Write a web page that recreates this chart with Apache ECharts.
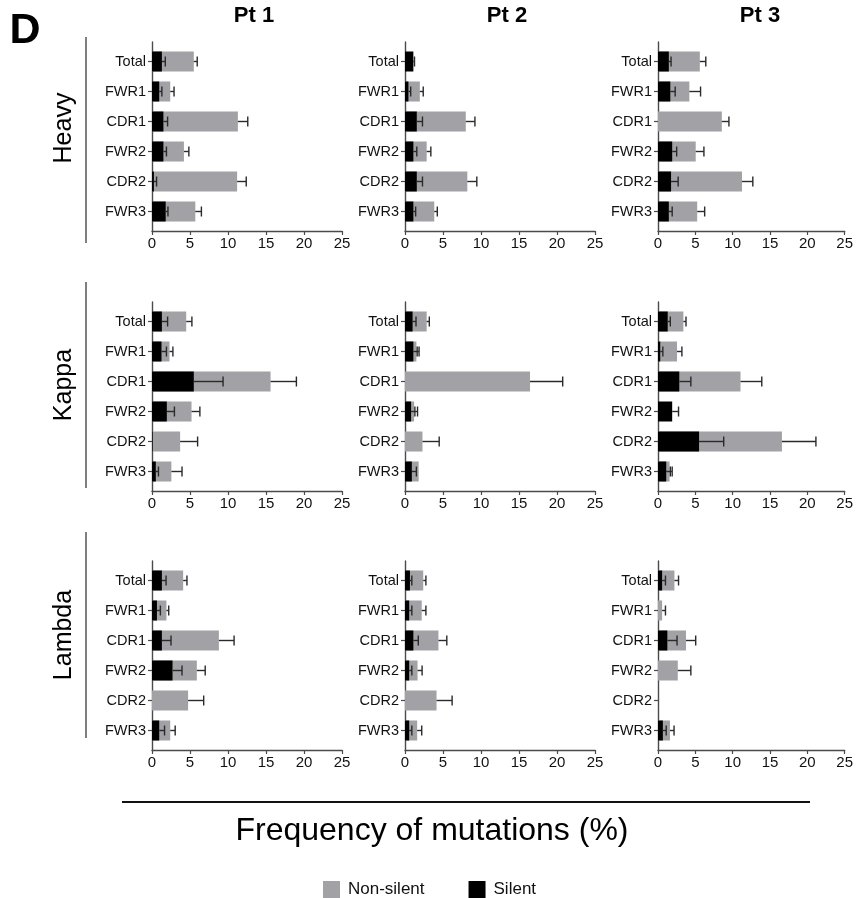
<!DOCTYPE html>
<html>
<head>
<meta charset="utf-8">
<script src="https://cdn.jsdelivr.net/npm/echarts@6/dist/echarts.min.js"></script>
<style>
  html, body { margin: 0; padding: 0; background: #fff; }
  #chart { width: 856px; height: 898px; }
</style>
</head>
<body>
<div id="chart"></div>
<script>
const regions = ['Total', 'FWR1', 'CDR1', 'FWR2', 'CDR2', 'FWR3'];
const chains = ['Heavy', 'Kappa', 'Lambda'];
const patients = ['Pt 1', 'Pt 2', 'Pt 3'];
const xTicks = [0, 5, 10, 15, 20, 25];

// frequency of mutations (%) per region, one row per patient
const heavyNonSilent = [
  [5.5, 2.4, 11.3, 4.2, 11.2, 5.7],
  [0, 1.95, 8.0, 2.85, 8.2, 3.85],
  [5.6, 4.2, 8.55, 5.05, 11.25, 5.25]
];
const heavyNonSilentErr = [
  [0.45, 0.5, 1.3, 0.65, 1.2, 0.8],
  [0, 0.45, 1.2, 0.55, 1.25, 0.4],
  [0.8, 1.5, 0.95, 1.1, 1.45, 1.0]
];
const heavySilent = [
  [1.3, 0.95, 1.5, 1.5, 0.25, 1.8],
  [1.1, 0.45, 1.55, 1.1, 1.55, 1.1],
  [1.45, 1.65, 0, 1.9, 1.75, 1.45]
];
const heavySilentErr = [
  [0.45, 0.35, 0.55, 0.4, 0.35, 0.3],
  [0.15, 0.3, 0.75, 0.45, 0.75, 0.3],
  [0.3, 0.65, 0, 0.6, 0.95, 0.45]
];

const kappaNonSilent = [
  [4.5, 2.3, 15.6, 5.2, 3.7, 2.55],
  [2.85, 1.5, 16.45, 1.2, 2.3, 1.8],
  [3.4, 2.55, 11.05, 0, 16.6, 1.55]
];
const kappaNonSilentErr = [
  [0.75, 0.45, 3.4, 1.1, 2.3, 1.4],
  [0.35, 0.35, 4.3, 0.45, 2.2, 0],
  [0.35, 0.65, 2.85, 0, 4.55, 0.35]
];
const kappaSilent = [
  [1.3, 1.25, 5.5, 1.95, 0.1, 0.5],
  [1.0, 1.1, 0, 0.8, 0, 0.9],
  [1.3, 0.3, 2.85, 1.9, 5.5, 1.1]
];
const kappaSilentErr = [
  [0.75, 0.65, 3.85, 1.0, 0, 0.35],
  [0.45, 0.5, 0, 0.5, 0, 0.6],
  [0.35, 0.35, 1.55, 0.85, 3.3, 0.55]
];

const lambdaNonSilent = [
  [4.1, 1.9, 8.8, 5.9, 4.75, 2.4],
  [2.4, 2.2, 4.4, 1.65, 4.15, 1.6],
  [2.2, 0.55, 3.75, 2.65, 0, 1.6]
];
const lambdaNonSilentErr = [
  [0.5, 0.3, 2.0, 1.1, 2.05, 0.65],
  [0.35, 0.55, 1.1, 0.6, 2.05, 0.6],
  [0.55, 0.45, 1.3, 1.75, 0, 0.55]
];
const lambdaSilent = [
  [1.3, 0.65, 1.3, 2.7, 0, 0.95],
  [0.65, 0.55, 1.1, 0.55, 0, 0.55],
  [0.55, 0, 1.25, 0, 0, 0.65]
];
const lambdaSilentErr = [
  [0.55, 0.45, 1.2, 1.25, 0, 0.7],
  [0.25, 0.35, 0.65, 0.35, 0, 0.35],
  [0.45, 0, 1.3, 0, 0, 0.45]
];

const chainData = [
  [heavyNonSilent, heavyNonSilentErr, heavySilent, heavySilentErr],
  [kappaNonSilent, kappaNonSilentErr, kappaSilent, kappaSilentErr],
  [lambdaNonSilent, lambdaNonSilentErr, lambdaSilent, lambdaSilentErr]
];

const FONT = '"Liberation Sans", Arial, sans-serif';
const GREY = '#a2a2a6';
const AXIS_COLOR = '#4a4a4a';
const GRID_LEFT = [152, 405, 658];
const GRID_TOP = [42, 302, 561];
const LABEL_Y = [128, 385, 635];
const SEP_LINE = [[37, 243], [282, 488], [532, 738]];

function renderBar(params, api) {
  const v = api.value(0);
  const i = api.value(1);
  const e = api.value(2);
  const base = api.coord([0, i]);
  const end = api.coord([v, i]);
  const h = api.size([0, 1])[1] * 0.667;
  const color = api.visual('color');
  const children = [];
  if (v > 0) {
    children.push({
      type: 'rect',
      shape: { x: base[0], y: base[1] - h / 2, width: end[0] - base[0], height: h },
      style: { fill: color }
    });
  }
  if (e > 0) {
    const tip = api.coord([v + e, i]);
    const stroke = { stroke: '#2a2a2a', lineWidth: 1.4 };
    children.push({
      type: 'line',
      shape: { x1: end[0], y1: end[1], x2: tip[0], y2: tip[1] },
      style: stroke
    });
    children.push({
      type: 'line',
      shape: { x1: tip[0], y1: tip[1] - h / 4, x2: tip[0], y2: tip[1] + h / 4 },
      style: stroke
    });
  }
  return { type: 'group', children };
}

const grid = [];
const xAxis = [];
const yAxis = [];
const series = [];

chains.forEach((chain, r) => {
  const [ns, nsErr, s, sErr] = chainData[r];
  patients.forEach((pt, c) => {
    const idx = r * 3 + c;
    grid.push({ left: GRID_LEFT[c], top: GRID_TOP[r], width: 190, height: 189 });
    xAxis.push({
      type: 'value',
      gridIndex: idx,
      min: xTicks[0],
      max: xTicks[xTicks.length - 1],
      interval: 5,
      splitLine: { show: false },
      axisLine: { onZero: false, lineStyle: { color: AXIS_COLOR, width: 1.4 } },
      axisTick: { length: 4, lineStyle: { color: AXIS_COLOR, width: 1.2 } },
      axisLabel: { fontFamily: FONT, fontSize: 15, color: '#111', margin: 5 }
    });
    yAxis.push({
      type: 'value',
      gridIndex: idx,
      inverse: true,
      min: -0.65,
      max: 5.65,
      splitLine: { show: false },
      axisLine: { show: true, onZero: false, lineStyle: { color: AXIS_COLOR, width: 1.4 } },
      axisTick: {
        show: true,
        length: 4,
        customValues: regions.map((_, k) => k),
        lineStyle: { color: AXIS_COLOR, width: 1.2 }
      },
      axisLabel: {
        customValues: regions.map((_, k) => k),
        formatter: (v) => regions[Math.round(v)],
        fontFamily: FONT,
        fontSize: 14.5,
        color: '#111',
        margin: 6
      }
    });
    series.push({
      name: 'Non-silent',
      type: 'custom',
      xAxisIndex: idx,
      yAxisIndex: idx,
      itemStyle: { color: GREY },
      encode: { x: 0, y: 1 },
      renderItem: renderBar,
      data: regions.map((_, k) => [ns[c][k], k, nsErr[c][k]])
    });
    series.push({
      name: 'Silent',
      type: 'custom',
      xAxisIndex: idx,
      yAxisIndex: idx,
      itemStyle: { color: '#000' },
      encode: { x: 0, y: 1 },
      renderItem: renderBar,
      data: regions.map((_, k) => [s[c][k], k, sErr[c][k]])
    });
  });
});

const graphic = [
  {
    type: 'text',
    style: { x: 25, y: 31, text: 'D', font: 'bold 43px ' + FONT, fill: '#000', align: 'center', verticalAlign: 'middle' }
  },
  {
    type: 'line',
    shape: { x1: 122, y1: 802, x2: 810, y2: 802 },
    style: { stroke: '#111', lineWidth: 2 }
  },
  {
    type: 'text',
    style: { x: 432, y: 831, text: 'Frequency of mutations (%)', font: '32px ' + FONT, fill: '#000', align: 'center', verticalAlign: 'middle' }
  }
];
patients.forEach((pt, c) => {
  graphic.push({
    type: 'text',
    style: { x: GRID_LEFT[c] + 102, y: 16, text: pt, font: 'bold 22px ' + FONT, fill: '#000', align: 'center', verticalAlign: 'middle' }
  });
});
chains.forEach((chain, r) => {
  graphic.push({
    type: 'line',
    shape: { x1: 86, y1: SEP_LINE[r][0], x2: 86, y2: SEP_LINE[r][1] },
    style: { stroke: '#555', lineWidth: 1.5 }
  });
  graphic.push({
    type: 'text',
    x: 64,
    y: LABEL_Y[r],
    rotation: Math.PI / 2,
    style: { x: 0, y: 0, text: chain, font: '25px ' + FONT, fill: '#000', align: 'center', verticalAlign: 'middle' }
  });
});

const chart = echarts.init(document.getElementById('chart'));
chart.setOption({
  animation: false,
  backgroundColor: '#fff',
  legend: {
    data: ['Non-silent', 'Silent'],
    left: 318,
    top: 876,
    icon: 'rect',
    itemWidth: 17,
    itemHeight: 17,
    itemGap: 44,
    textStyle: { fontFamily: FONT, fontSize: 17, color: '#111', padding: [0, 0, 0, 3] }
  },
  grid,
  xAxis,
  yAxis,
  series,
  graphic
});
</script>
</body>
</html>
